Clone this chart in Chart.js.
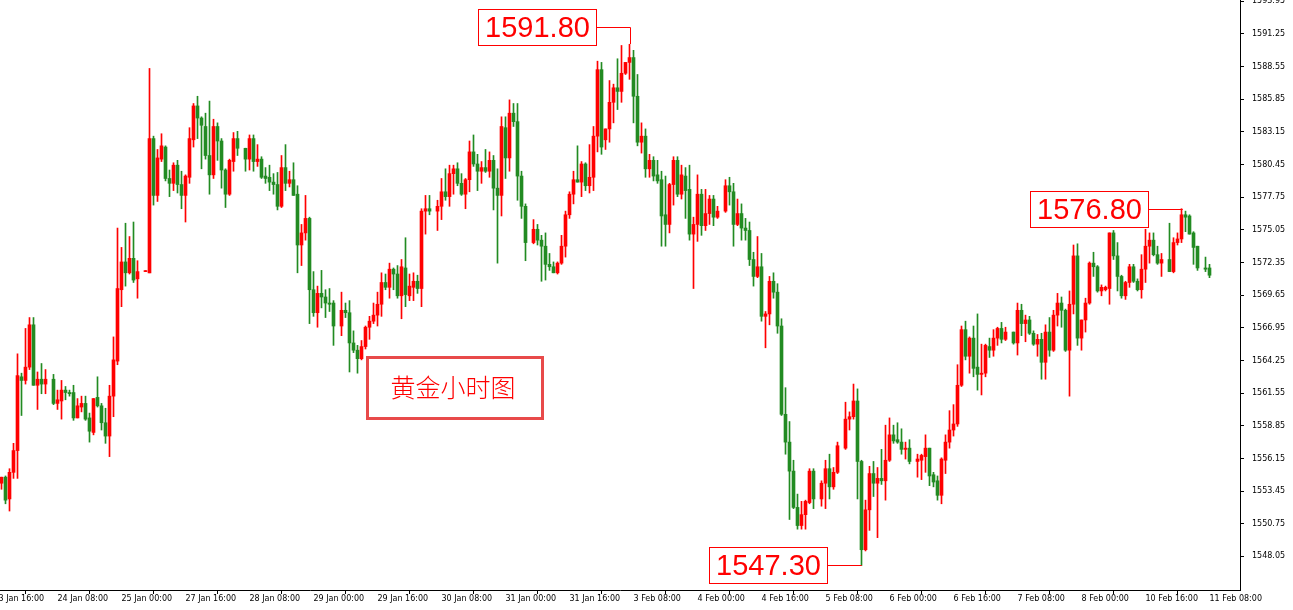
<!DOCTYPE html>
<html>
<head>
<meta charset="utf-8">
<script src="https://cdn.jsdelivr.net/npm/chart.js@4/dist/chart.umd.min.js"></script>
<style>
  html, body { margin: 0; padding: 0; background: #fff; }
  #wrap { width: 1293px; height: 610px; position: relative; }
</style>
</head>
<body>
<div id="wrap"><canvas id="chartView"></canvas></div>
<script>
// hourly gold candles, one slot per hour (null = no bar in that slot)
var open = [
  1554.1,1554.6,1552.8,1555.0,1556.8,1562.9,1562.6,1563.7,1567.2,1562.2,
  1562.7,1562.3,null,1562.7,1560.7,1560.9,1561.8,1561.6,1561.6,1559.5,
  1560.4,1560.7,1559.5,1558.3,1561.2,1560.5,1559.1,1558.0,1561.3,1564.2,
  1570.1,1572.4,1571.5,1572.7,1571.0,null,1571.6,1571.5,1582.6,1577.9,
  1580.9,1581.9,1579.3,1578.9,1580.4,1578.8,1577.9,1579.4,1582.5,1585.3,
  1584.3,1583.6,1581.2,1579.6,1583.6,1582.4,1580.0,1578.0,1580.7,1582.6,
  null,1581.8,1580.9,1582.6,1580.7,1580.9,1579.5,1579.4,1579.0,1578.8,
  1577.0,1580.2,1578.9,1579.2,1578.0,1573.8,1574.8,1576.0,1570.1,1568.2,
  1569.8,1569.5,1569.0,1569.0,null,1567.1,1568.4,1568.2,1565.7,1565.1,
  1564.4,1565.4,1567.0,1567.5,1568.0,1568.9,1570.7,1570.3,1571.8,1571.4,
  1569.6,1571.9,1569.6,1570.3,1570.8,1570.2,1576.6,1576.8,null,1576.6,
  1577.0,1578.2,1577.8,1579.7,1580.1,1578.9,1578.0,1579.2,1581.5,1580.5,
  1579.9,1580.2,1579.9,1580.8,1578.5,1577.9,1583.5,1581.0,1584.7,1584.0,
  1579.5,1577.0,null,1574.0,1575.1,1574.2,1573.7,1572.2,1572.0,1571.5,
  1572.3,1573.7,1576.3,1578.0,1579.2,1579.0,1580.5,1578.7,1579.4,1582.8,
  1588.3,1582.5,1583.4,1585.6,1586.8,1586.5,1588.0,1588.9,1589.3,1586.1,
  1582.3,1582.8,1580.1,1580.8,1579.6,1579.2,1576.3,1575.5,1578.8,1580.8,
  1578.0,1579.5,1578.4,1574.7,1575.5,1578.0,1575.4,1576.4,1577.6,1576.1,
  null,1576.6,1578.7,1578.2,1575.5,1576.4,1575.2,1575.0,1572.6,1571.2,
  1572.0,1567.9,1568.1,1570.8,1569.9,1567.1,1559.8,1557.5,1555.1,1552.1,
  1550.6,1551.5,1552.5,1555.1,null,1552.8,1554.1,1555.3,1553.8,1555.0,
  null,1557.0,1559.4,1559.6,1560.9,1555.9,1548.6,1551.9,1554.9,1554.1,
  1554.5,1554.3,1556.0,1558.1,1557.7,1557.5,1556.9,1557.0,null,1555.9,
  1556.0,1556.3,1557.0,1554.8,1554.3,1553.1,1556.0,1557.5,1558.5,1559.0,
  1562.2,1566.8,1564.6,1566.1,1563.7,1563.1,1563.2,1565.4,1565.1,1566.1,
  1566.9,1566.0,null,1566.6,1565.7,1568.4,1567.3,1567.6,1566.5,1565.6,
  1566.0,1564.1,1566.6,1565.1,1568.0,1569.0,1568.4,1565.1,1568.9,1572.9,
  1566.1,1567.6,1569.0,1572.3,1572.0,1570.0,1570.1,1570.2,1574.8,1572.9,
  1571.2,1569.6,1570.7,1572.0,1570.8,1570.1,1571.8,1573.7,1574.2,1573.0,
  1572.3,null,1572.6,1571.6,1574.0,1574.3,1576.3,1576.2,1574.8,1573.7,
  null,1571.9,1571.9
];
var high = [
  1554.6,1554.7,1555.3,1557.4,1564.8,1563.2,1566.9,1567.8,1567.8,1563.3,
  1564.0,1563.5,null,1563.1,1561.8,1562.6,1562.1,1561.8,1562.2,1561.1,
  1561.3,1561.3,1559.9,1561.1,1562.9,1560.7,1560.3,1562.2,1566.2,1575.2,
  1573.6,1575.6,1574.5,1575.7,1572.5,null,1571.6,1588.4,1582.8,1581.7,
  1583.0,1582.0,1580.0,1580.6,1580.8,1579.9,1579.6,1583.5,1585.5,1586.1,
  1584.4,1584.7,1585.7,1584.2,1583.9,1582.6,1580.1,1580.9,1583.1,1583.2,
  null,1581.8,1582.9,1582.9,1582.1,1581.1,1580.2,1580.4,1579.7,1579.8,
  1581.2,1582.1,1579.9,1580.6,1578.7,1575.5,1577.9,1576.1,1571.6,1570.4,
  1571.7,1570.1,1570.2,1569.2,null,1569.9,1569.0,1569.2,1566.7,1565.5,
  1565.9,1567.1,1567.9,1569.0,1569.9,1571.5,1571.4,1572.3,1571.9,1572.1,
  1572.6,1574.4,1571.4,1571.5,1571.3,1576.8,1577.9,1577.9,null,1577.5,
  1579.3,1580.1,1580.4,1580.4,1580.6,1579.7,1579.3,1582.4,1582.9,1581.3,
  1580.7,1581.7,1581.5,1581.2,1580.1,1584.4,1584.4,1585.8,1585.5,1585.5,
  1579.9,1577.2,null,1575.9,1575.5,1574.6,1574.8,1573.1,1572.4,1572.4,
  1574.6,1576.6,1578.2,1579.9,1582.0,1580.7,1580.6,1582.1,1583.6,1589.0,
  1588.9,1583.4,1587.4,1587.1,1589.2,1590.3,1588.9,1590.4,1589.9,1587.9,
  1583.9,1583.4,1581.3,1581.1,1580.8,1579.9,1579.5,1578.9,1581.1,1581.1,
  1580.4,1580.2,1580.4,1576.1,1579.6,1578.4,1578.4,1577.9,1577.9,1577.0,
  null,1579.2,1579.4,1578.9,1577.6,1577.2,1576.0,1575.7,1573.2,1574.5,
  1573.1,1568.3,1571.2,1571.5,1570.6,1567.7,1562.0,1559.2,1556.0,1553.2,
  1552.6,1552.7,1555.3,1555.3,null,1554.3,1556.0,1556.5,1555.4,1557.5,
  null,1560.8,1560.0,1562.3,1561.9,1556.0,1552.7,1555.5,1555.9,1555.4,
  1556.9,1558.9,1559.5,1558.9,1559.1,1558.6,1557.5,1557.7,null,1556.5,
  1556.5,1558.1,1557.0,1555.0,1554.7,1556.2,1558.1,1560.1,1560.6,1563.9,
  1567.1,1567.5,1566.2,1567.1,1568.1,1565.6,1565.6,1566.1,1566.8,1567.0,
  1567.4,1567.0,null,1566.6,1569.0,1568.9,1568.0,1567.9,1566.7,1566.4,
  1566.5,1567.2,1567.8,1568.4,1569.8,1569.5,1568.5,1570.0,1573.8,1573.9,
  1567.6,1569.4,1572.4,1573.2,1572.1,1570.5,1570.4,1574.8,1575.0,1574.0,
  1571.3,1570.8,1572.2,1572.2,1571.0,1573.0,1575.1,1574.8,1574.8,1573.7,
  1573.1,null,1575.6,1574.4,1574.8,1576.8,1576.6,1576.3,1574.9,1573.7,
  null,1572.8,1572.2
];
var low = [
  1553.6,1552.4,1551.8,1554.5,1554.5,1559.7,1562.3,1563.5,1562.2,1560.2,
  1561.5,1561.5,null,1560.6,1560.2,1559.4,1561.0,1561.3,1559.3,1559.5,
  1560.0,1559.3,1557.5,1558.1,1560.4,1558.5,1557.4,1556.3,1559.6,1563.9,
  1568.7,1570.4,1571.4,1570.7,1569.4,null,1571.6,1571.5,1577.1,1577.4,
  1580.7,1579.1,1577.8,1578.3,1578.1,1576.8,1575.7,1578.9,1581.9,1582.6,
  1580.1,1580.9,1578.0,1579.3,1580.8,1578.5,1576.9,1577.9,1579.9,1581.2,
  null,1579.9,1580.0,1579.9,1580.3,1579.3,1578.9,1578.3,1578.0,1576.7,
  1576.9,1578.3,1578.6,1577.9,1571.5,1572.1,1574.2,1567.3,1567.9,1567.0,
  1568.6,1567.8,1568.3,1565.5,null,1566.3,1567.8,1563.3,1564.9,1563.2,
  1564.3,1565.2,1566.0,1567.3,1567.1,1567.9,1570.1,1569.4,1570.1,1569.4,
  1567.7,1568.7,1569.2,1569.2,1569.8,1568.7,1574.7,1576.3,null,1575.0,
  1575.9,1577.5,1577.0,1578.0,1578.7,1577.9,1576.8,1578.2,1580.3,1578.3,
  1578.9,1579.8,1579.4,1576.7,1572.3,1576.2,1579.3,1579.9,1583.6,1577.5,
  1576.0,1572.5,null,1573.9,1573.8,1570.8,1570.9,1571.7,1571.5,1571.4,
  1572.2,1572.8,1576.0,1577.2,1579.0,1577.8,1578.3,1578.1,1578.3,1581.5,
  1581.3,1581.7,1582.3,1583.9,1585.0,1585.6,1587.9,1587.5,1583.9,1582.0,
  1581.4,1579.4,1579.4,1579.1,1578.9,1573.7,1573.7,1574.8,1577.1,1577.8,
  1577.6,1576.0,1574.2,1570.2,1574.1,1574.6,1575.0,1575.5,1575.4,1576.0,
  null,1576.5,1577.1,1573.7,1575.4,1574.2,1574.2,1572.1,1570.4,1571.1,
  1567.5,1565.3,1567.2,1569.4,1566.5,1559.7,1556.5,1551.1,1552.0,1550.3,
  1550.3,1550.3,1552.4,1552.0,null,1552.2,1552.0,1552.8,1553.6,1554.9,
  null,1556.9,1558.5,1559.4,1552.8,1547.3,1548.5,1550.2,1553.0,1549.6,
  1554.0,1552.7,1555.9,1557.4,1557.4,1556.5,1556.1,1555.7,null,1554.6,
  1554.4,1555.0,1553.9,1553.8,1552.7,1552.4,1554.9,1557.0,1558.0,1558.8,
  1562.1,1564.3,1563.2,1562.9,1561.8,1561.4,1562.9,1564.5,1564.6,1565.5,
  1565.7,1565.9,null,1565.6,1564.7,1566.3,1565.8,1566.4,1565.5,1564.6,
  1562.7,1562.7,1564.6,1565.0,1567.1,1567.0,1565.0,1561.3,1568.1,1565.5,
  1565.1,1566.6,1568.9,1571.2,1569.9,1569.6,1570.0,1568.9,1572.6,1570.0,
  1569.4,1569.3,1570.3,1570.7,1570.0,1569.4,1570.7,1572.3,1572.9,1572.2,
  1571.2,null,1571.6,1571.5,1573.8,1574.0,1574.9,1574.7,1572.2,1571.7,
  null,1571.6,1571.1
];
var close = [
  1554.6,1552.7,1555.0,1556.8,1563.0,1562.6,1563.7,1567.2,1562.2,1562.7,
  1562.3,1562.7,null,1560.7,1561.0,1561.8,1561.6,1561.5,1559.5,1560.5,
  1560.7,1559.4,1558.4,1561.1,1560.5,1559.1,1558.0,1561.3,1564.3,1570.2,
  1572.4,1571.5,1572.7,1570.9,1571.6,null,1571.6,1582.6,1577.9,1581.0,
  1582.0,1579.3,1578.9,1580.4,1578.8,1577.9,1579.5,1582.6,1585.3,1584.3,
  1583.7,1581.2,1579.6,1583.6,1582.4,1580.0,1578.0,1580.8,1582.6,1581.8,
  null,1580.9,1582.6,1580.7,1580.9,1579.4,1579.3,1579.0,1578.8,1577.0,
  1580.2,1578.9,1579.2,1577.9,1573.8,1574.8,1576.0,1570.1,1568.2,1569.8,
  1569.5,1569.0,1568.9,1567.1,null,1568.4,1568.2,1565.7,1565.1,1564.4,
  1565.4,1567.0,1567.5,1568.0,1568.9,1570.7,1570.3,1571.8,1571.4,1569.6,
  1572.0,1569.7,1570.4,1570.8,1570.2,1576.6,1576.8,1576.6,null,1577.0,
  1578.2,1577.8,1579.7,1580.1,1578.9,1578.0,1579.2,1581.5,1580.5,1579.9,
  1580.2,1579.9,1580.8,1578.5,1577.9,1583.6,1581.0,1584.7,1584.0,1579.5,
  1577.0,1574.0,null,1575.1,1574.2,1573.7,1572.2,1572.0,1571.5,1572.3,
  1573.7,1576.3,1578.0,1579.2,1579.0,1580.5,1578.7,1579.4,1582.8,1588.3,
  1581.9,1583.4,1585.6,1586.8,1586.5,1588.0,1588.9,1589.3,1586.1,1582.3,
  1582.8,1580.1,1580.8,1579.5,1579.1,1576.2,1575.5,1578.8,1580.8,1578.0,
  1579.6,1578.3,1574.7,1575.5,1578.0,1575.4,1576.4,1577.6,1576.1,1576.6,
  null,1578.7,1578.2,1575.5,1576.4,1575.2,1575.0,1572.6,1571.2,1572.0,
  1567.9,1568.1,1570.8,1569.9,1567.1,1559.8,1557.5,1555.1,1552.1,1550.6,
  1551.5,1552.6,1555.1,1552.8,null,1554.1,1555.3,1553.8,1555.0,1557.2,
  null,1559.4,1559.6,1560.9,1555.9,1548.6,1551.9,1554.9,1554.1,1554.5,
  1554.3,1556.0,1558.1,1557.6,1557.5,1556.9,1557.0,1555.9,null,1556.1,
  1556.4,1557.0,1554.7,1554.2,1553.1,1556.1,1557.5,1558.5,1559.0,1562.2,
  1566.8,1564.6,1566.1,1563.6,1563.1,1563.2,1565.5,1565.1,1566.1,1566.9,
  1566.0,1566.6,null,1565.7,1568.4,1567.3,1567.6,1566.5,1565.6,1566.0,
  1564.1,1566.6,1565.1,1568.0,1569.0,1568.4,1565.1,1568.9,1572.9,1566.1,
  1567.6,1569.0,1572.3,1572.0,1570.0,1570.3,1570.3,1574.8,1572.9,1571.2,
  1569.6,1570.7,1572.0,1570.8,1570.1,1571.8,1573.7,1574.2,1573.0,1572.3,
  1572.6,null,1571.6,1574.0,1574.3,1576.3,1576.1,1574.7,1573.6,1571.9,
  null,1571.8,1571.3
];

// time axis labels, one every 16 slots starting at slot -2
var xTickSlots = [-2, 14, 30, 46, 62, 78, 94, 110, 126, 142, 158, 174, 190, 206, 222, 238, 254, 270, 286, 302];
var xTickLabels = ['23 Jan 16:00', '24 Jan 08:00', '25 Jan 00:00', '27 Jan 16:00', '28 Jan 08:00',
  '29 Jan 00:00', '29 Jan 16:00', '30 Jan 08:00', '31 Jan 00:00', '31 Jan 16:00', '3 Feb 08:00',
  '4 Feb 00:00', '4 Feb 16:00', '5 Feb 08:00', '6 Feb 00:00', '6 Feb 16:00', '7 Feb 08:00',
  '8 Feb 00:00', '10 Feb 16:00', '11 Feb 08:00'];
var yTicks = [1548.05, 1550.75, 1553.45, 1556.15, 1558.85, 1561.55, 1564.25, 1566.95, 1569.65,
  1572.35, 1575.05, 1577.75, 1580.45, 1583.15, 1585.85, 1588.55, 1591.25, 1593.95];

// marked extremes: [label, slot, price]
var marks = [
  ['1591.80', 157, 1591.80],
  ['1576.80', 295, 1576.80],
  ['1547.30', 215, 1547.30]
];
var title = '黄金小时图';

var UP = '#ff0000';
var DOWN = '#228b22';

var bodies = [], wicks = [], colors = [];
open.forEach((o, i) => {
  if (o === null) return;
  bodies.push({x: i, y: [o, close[i]]});
  wicks.push({x: i, y: [low[i], high[i]]});
  colors.push(close[i] >= o ? UP : DOWN);
});

var notesPlugin = {
  id: 'notes',
  afterDraw(chart) {
    var ctx = chart.ctx;
    var xs = chart.scales.x, ys = chart.scales.y;
    ctx.save();
    marks.forEach(m => {
      var px = Math.round(xs.getPixelForValue(m[1])) + 0.5;
      var py = Math.round(ys.getPixelForValue(m[2])) + 0.5;
      var right = px - 34, left = right - 118;
      var top = py - 18;
      ctx.fillStyle = '#fff';
      ctx.fillRect(left, top, 118, 36);
      ctx.strokeStyle = UP;
      ctx.lineWidth = 1;
      ctx.strokeRect(left, top, 118, 36);
      ctx.beginPath();
      ctx.moveTo(right, py);
      ctx.lineTo(px, py);
      var end = m[2] > close[m[1]] ? high[m[1]] : low[m[1]];
      ctx.lineTo(px, Math.round(ys.getPixelForValue(end)));
      ctx.stroke();
      ctx.fillStyle = UP;
      ctx.font = '29px "Liberation Sans", Arial, sans-serif';
      ctx.textAlign = 'center';
      ctx.textBaseline = 'middle';
      ctx.fillText(m[0], left + 59, py + 1);
    });
    // title box
    ctx.strokeStyle = '#e84a4a';
    ctx.lineWidth = 3;
    ctx.strokeRect(367.5, 357.5, 175, 61);
    ctx.fillStyle = UP;
    ctx.font = '300 25px "Noto Sans CJK SC", sans-serif';
    ctx.textAlign = 'center';
    ctx.textBaseline = 'middle';
    ctx.fillText(title, 453, 387);
    ctx.restore();
  }
};

var ctx = document.getElementById('chartView').getContext('2d');
new Chart(ctx, {
  type: 'bar',
  data: {
    datasets: [
      {
        label: 'body',
        data: bodies,
        backgroundColor: colors,
        barThickness: 3,
        minBarLength: 1,
        grouped: false,
        borderWidth: 0
      },
      {
        label: 'wick',
        data: wicks,
        backgroundColor: colors,
        barThickness: 1,
        minBarLength: 1,
        grouped: false,
        borderWidth: 0
      }
    ]
  },
  options: {
    responsive: true,
    maintainAspectRatio: false,
    animation: false,
    layout: { padding: 0 },
    plugins: { legend: { display: false }, tooltip: { enabled: false } },
    scales: {
      x: {
        type: 'linear',
        offset: false,
        min: -0.375,
        max: 309.625,
        afterFit: s => { s.height = 20; s.paddingLeft = 0; s.paddingRight = 0; },
        afterBuildTicks: s => { s.ticks = xTickSlots.map(v => ({ value: v })); },
        grid: { drawOnChartArea: false, tickLength: 4, color: '#000' },
        border: { color: '#000' },
        ticks: {
          autoSkip: false,
          maxRotation: 0,
          align: 'start',
          padding: 0,
          color: '#000',
          font: { family: '"DejaVu Sans", sans-serif', size: 8 },
          callback: (v, i) => xTickLabels[i]
        }
      },
      y: {
        position: 'right',
        min: 1545.27,
        max: 1594.06,
        afterFit: s => { s.width = 53; s.paddingTop = 0; s.paddingBottom = 0; },
        afterBuildTicks: s => { s.ticks = yTicks.map(v => ({ value: v })); },
        grid: { drawOnChartArea: false, tickLength: 4, color: '#000' },
        border: { color: '#000' },
        ticks: {
          padding: 8,
          color: '#000',
          font: { family: '"DejaVu Sans", sans-serif', size: 8 },
          callback: v => v.toFixed(2)
        }
      }
    }
  },
  plugins: [notesPlugin]
});
</script>
</body>
</html>
